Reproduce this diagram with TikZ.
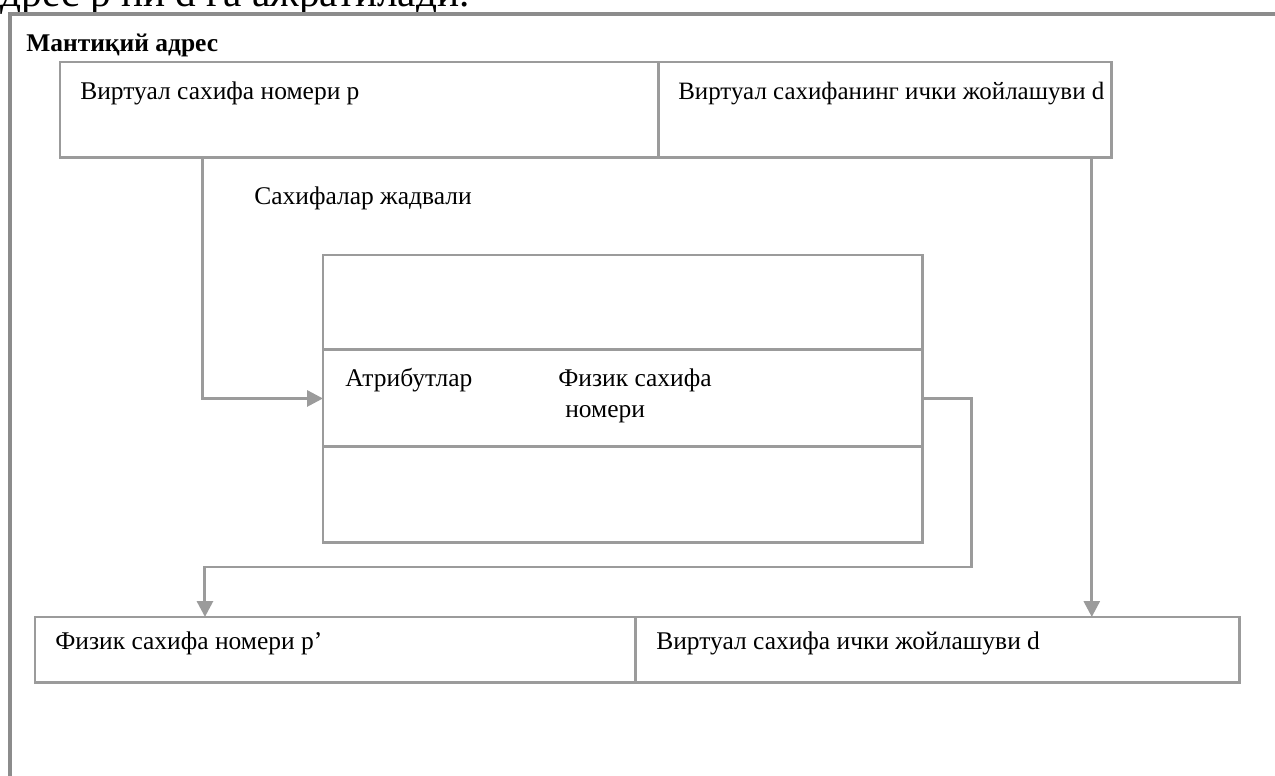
\documentclass[tikz,border=0pt]{standalone}
\usepackage{fontspec}
\setmainfont{Liberation Serif}
\usetikzlibrary{positioning, arrows.meta}

\definecolor{linegray}{HTML}{9B9B9B}
\definecolor{framegray}{HTML}{8C8C8C}

\begin{document}
\begin{tikzpicture}[
    x=0.02cm, y=-0.02cm,
    font=\fontsize{14.5}{17}\selectfont,
    cell/.style={
      draw=linegray,
      line width=1.7pt,
      anchor=north west,
      inner sep=0pt,
      outer sep=0pt
    },
    txt/.style={
      anchor=base west,
      inner sep=0pt
    },
    arrow/.style={
      draw=linegray,
      line width=1.7pt,
      -{Triangle[length=9pt,width=9pt]}
    },
]
\useasboundingbox (0,0) rectangle (1275,776);

% Heading cut by the page edge
\node[txt, font=\fontsize{23.5}{26}\selectfont] (heading) at (-18,7) {адрес p ни d га ажратилади.};

% Frame
\node[cell, draw=framegray, line width=2.8pt, minimum width=26cm, minimum height=16cm] (frame) at (10,14) {};
\node[txt, font=\fontsize{14.5}{17}\selectfont\bfseries] (logaddr) at (26,52) {Мантиқий адрес};

% Logical address
\node[cell, minimum width=11.98cm, minimum height=1.92cm] (vpage) at (60,62) {};
\node[cell, minimum width=9.06cm, minimum height=1.92cm, right=0pt of vpage] (voffset) {};
\node[txt] (vpagetxt) at (80,100) {Виртуал сахифа номери p};
\node[txt, font=\fontsize{14.2}{17}\selectfont] (voffsettxt) at (678,100) {Виртуал сахифанинг ички жойлашуви d};

% Page table
\node[txt] (tabletxt) at (254,205) {Сахифалар жадвали};
\node[cell, minimum width=12cm, minimum height=1.9cm] (row1) at (323,255) {};
\node[cell, minimum width=12cm, minimum height=1.94cm, below=0pt of row1] (row2) {};
\node[cell, minimum width=12cm, minimum height=1.92cm, below=0pt of row2] (row3) {};
\node[txt] (attrtxt) at (345,387) {Атрибутлар};
\node[txt] (physnum) at (558,387) {Физик сахифа};
\node[txt] (physnum2) at (565,418) {номери};

% Physical address
\node[cell, minimum width=12.02cm, minimum height=1.32cm] (ppage) at (35,617) {};
\node[cell, minimum width=12.08cm, minimum height=1.32cm, right=0pt of ppage] (poffset) {};
\node[txt] (ppagetxt) at (55,650) {Физик сахифа номери p’};
\node[txt] (poffsettxt) at (656,650) {Виртуал сахифа ички жойлашуви d};

% Arrows
\coordinate (turn) at (971,567);
\draw[arrow] ([xshift=2.86cm]vpage.south west) |- (row2.west);
\draw[arrow] (row2.east) -| (turn) -| ([xshift=3.4cm]ppage.north west);
\draw[arrow] ([xshift=8.66cm]voffset.south west) -- ([xshift=8.66cm]voffset.south west |- poffset.north);

\end{tikzpicture}
\end{document}
